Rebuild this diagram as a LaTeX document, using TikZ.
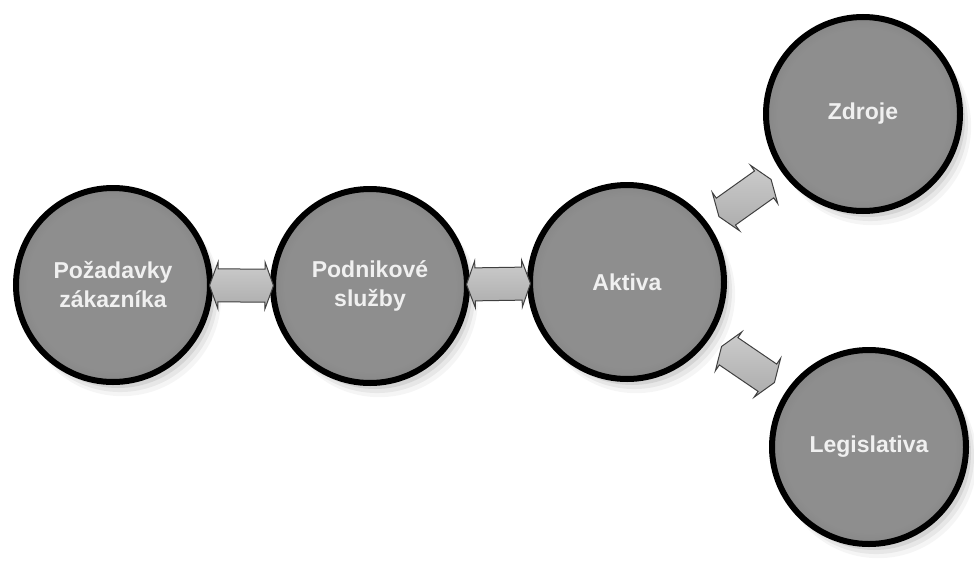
\documentclass[tikz,border=0pt]{standalone}
\usepackage{fontspec}
\setmainfont{Liberation Sans}
\usetikzlibrary{shapes.arrows, shadows}

\definecolor{discmid}{RGB}{142,142,142}
\definecolor{discedge}{RGB}{100,100,100}
\definecolor{discrim}{RGB}{20,20,20}
\pgfdeclareradialshading{disc}{\pgfpoint{0bp}{0bp}}{color(0bp)=(discmid); color(22bp)=(discmid); color(40bp)=(discedge); color(44bp)=(discedge); color(50bp)=(discrim)}

\begin{document}
\begin{tikzpicture}[x = 1pt, y = -1pt,
	bubble/.style = {circle, minimum size = 194pt, inner sep = 0pt, align = center,
		draw = black, line width = 6pt, shading = disc,
		drop shadow = {shadow xshift = 9pt, shadow yshift = -12pt, shadow scale = 1.02, opacity = 0.08},
		drop shadow = {shadow xshift = 7pt, shadow yshift = -9pt, shadow scale = 1.01, opacity = 0.12},
		drop shadow = {shadow xshift = 5pt, shadow yshift = -6pt, opacity = 0.18},
		text = white!94!black, font = \bfseries\fontsize{23}{29}\selectfont},
	link/.style = {double arrow, sloped, inner xsep = 0pt, inner ysep = 16pt, minimum height = 64pt,
		double arrow head extend = 7pt, double arrow tip angle = 140,
		draw = black!75, line width = 1pt,
		top color = gray!40, middle color = gray!25, bottom color = gray!65}]

	\useasboundingbox (0, 0) rectangle (974, 562);

	% Chain of circles
	
	\node [bubble] (pozad) at (113, 285) {Požadavky\\zákazníka};
	\node [bubble] (sluzby) at (370, 286) {Podnikové\\služby};
	\node [bubble] (aktiva) at (627, 282) {Aktiva};
	
	% Branches to the right
	
	\node [bubble] (zdroje) at (863, 114) {Zdroje};
	\node [bubble] (legis) at (869, 447) {Legislativa};
	
	% Double arrows between neighbours
	
	\path (pozad) -- node [link] {} (sluzby);
	\path (sluzby) -- node [link] {} (aktiva);
	\path (aktiva) -- node [link] {} (zdroje);
	\path (aktiva) -- node [link] {} (legis);

\end{tikzpicture}
\end{document}
